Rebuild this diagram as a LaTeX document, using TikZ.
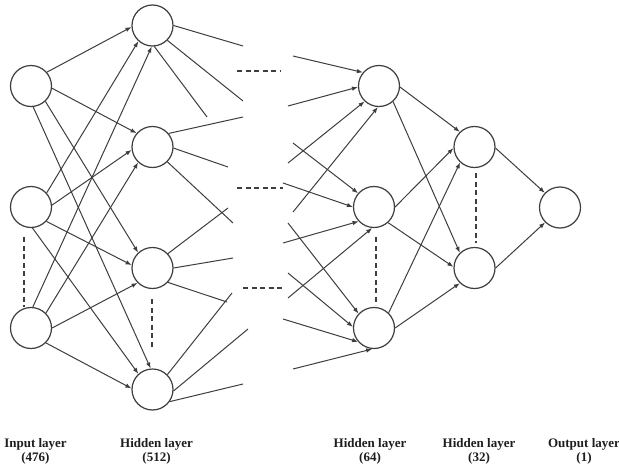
\documentclass[tikz,border=0pt]{standalone}
\usepackage{fontspec}
\setmainfont{Liberation Serif}
\usetikzlibrary{arrows.meta}
\definecolor{linec}{RGB}{62,62,62}
\definecolor{textc}{RGB}{30,30,30}
\begin{document}
\begin{tikzpicture}[x=1pt,y=-1pt,
  neuron/.style={circle,draw=linec,line width=1.2pt,minimum size=41pt,inner sep=0pt},
  conn/.style={draw=linec,line width=1pt,-{Latex[length=6pt,width=4.5pt]}},
  freeline/.style={draw=linec,line width=1pt},
  dotline/.style={draw=linec,line width=1.3pt,dash pattern=on 5pt off 3.5pt},
  lab/.style={font=\fontsize{13}{14}\selectfont\bfseries,text=textc,align=center,inner sep=0pt,anchor=north}]
\useasboundingbox[fill=white] (0,0) rectangle (619,471);

% neurons
\node[neuron] (i1) at (31,86) {};
\node[neuron] (i2) at (31,207) {};
\node[neuron] (i3) at (31,328) {};
\node[neuron] (h1) at (152.5,25.5) {};
\node[neuron] (h2) at (152.5,147) {};
\node[neuron] (h3) at (152.5,268) {};
\node[neuron] (h4) at (152.5,389.5) {};
\node[neuron] (g1) at (379,86) {};
\node[neuron] (g2) at (374,207) {};
\node[neuron] (g3) at (374,328) {};
\node[neuron] (k1) at (474.5,147) {};
\node[neuron] (k2) at (474.5,268) {};
\node[neuron] (o) at (560,207.5) {};

% input -> hidden 512
\draw[conn] (i1.41) -- (h1.184);
\draw[conn] (i2.42) -- (h1.228);
\draw[conn] (i3.85) -- (h1.268);
\draw[conn] (i1.-6) -- (h2.139);
\draw[conn] (i2.5) -- (h2.188);
\draw[conn] (i3.45) -- (h2.227);
\draw[conn] (i1.-47) -- (h3.133);
\draw[conn] (i2.-43) -- (h3.172);
\draw[conn] (i3.0) -- (h3.225);
\draw[conn] (i1.-84) -- (h4.95);
\draw[conn] (i2.-86) -- (h4.132);
\draw[conn] (i3.-45) -- (h4.177);

% hidden 512 -> free ends
\coordinate (a1) at (243,46);
\coordinate (a2) at (243,101);
\coordinate (a3) at (207,117);
\coordinate (b1) at (243,117);
\coordinate (b2) at (228,167);
\coordinate (b3) at (233,223);
\coordinate (c1) at (228,208);
\coordinate (c2) at (233,258);
\coordinate (c3) at (227,302);
\coordinate (d1) at (232,293);
\coordinate (d2) at (248,329);
\coordinate (d3) at (243,384);
\draw[freeline] (h1.0) -- (a1);
\draw[freeline] (h1.-45) -- (a2);
\draw[freeline] (h1.-85) -- (a3);
\draw[freeline] (h2.40) -- (b1);
\draw[freeline] (h2.-3) -- (b2);
\draw[freeline] (h2.-45) -- (b3);
\draw[freeline] (h3.43) -- (c1);
\draw[freeline] (h3.0) -- (c2);
\draw[freeline] (h3.-43) -- (c3);
\draw[freeline] (h4.45) -- (d1);
\draw[freeline] (h4.-4) -- (d2);
\draw[freeline] (h4.-35) -- (d3);

% free ends -> hidden 64
\coordinate (e1) at (293,56);
\coordinate (e2) at (288,106);
\coordinate (e3) at (288,163);
\coordinate (e4) at (293,212);
\coordinate (f1) at (293,143);
\coordinate (f2) at (283,183);
\coordinate (f3) at (283,243);
\coordinate (f4) at (288,298);
\coordinate (m1) at (288,223);
\coordinate (m2) at (288,273);
\coordinate (m3) at (283,319);
\coordinate (m4) at (293,369);
\draw[conn] (e1) -- (g1.140);
\draw[conn] (e2) -- (g1.183);
\draw[conn] (e3) -- (g1.227);
\draw[conn] (e4) -- (g1.267);
\draw[conn] (f1) -- (g2.139);
\draw[conn] (f2) -- (g2.180);
\draw[conn] (f3) -- (g2.223);
\draw[conn] (f4) -- (g2.265);
\draw[conn] (m1) -- (g3.137);
\draw[conn] (m2) -- (g3.177);
\draw[conn] (m3) -- (g3.221);
\draw[conn] (m4) -- (g3.265);

% hidden 64 -> hidden 32
\draw[conn] (g1.-3) -- (k1.134);
\draw[conn] (g1.-48) -- (k2.134);
\draw[conn] (g2.0) -- (k1.183);
\draw[conn] (g2.-48) -- (k2.177);
\draw[conn] (g3.46) -- (k1.227);
\draw[conn] (g3.0) -- (k2.226);

% hidden 32 -> output
\draw[conn] (k1.-3) -- (o.136);
\draw[conn] (k2.0) -- (o.225);

% dashed ellipses
\coordinate (p1) at (237,71);  \coordinate (p2) at (280,71);
\coordinate (q1) at (237,188); \coordinate (q2) at (283,188);
\coordinate (r1) at (243,288); \coordinate (r2) at (283,288);
\draw[dotline] (p1) -- (p2);
\draw[dotline] (q1) -- (q2);
\draw[dotline] (r1) -- (r2);
\coordinate (s1) at (24,237);  \coordinate (s2) at (24,307);
\coordinate (t1) at (152,299); \coordinate (t2) at (152,349);
\coordinate (u1) at (376,237); \coordinate (u2) at (376,305);
\coordinate (v1) at (476,173); \coordinate (v2) at (476,243);
\draw[dotline] (s1) -- (s2);
\draw[dotline] (t1) -- (t2);
\draw[dotline] (u1) -- (u2);
\draw[dotline] (v1) -- (v2);

% labels
\node[lab] (l1) at (35.5,438) {Input layer\\(476)};
\node[lab] (l2) at (156.5,438) {Hidden layer\\(512)};
\node[lab] (l3) at (370,438) {Hidden layer\\(64)};
\node[lab] (l4) at (479,438) {Hidden layer\\(32)};
\node[lab] (l5) at (584,438) {Output layer\\(1)};
\end{tikzpicture}
\end{document}
